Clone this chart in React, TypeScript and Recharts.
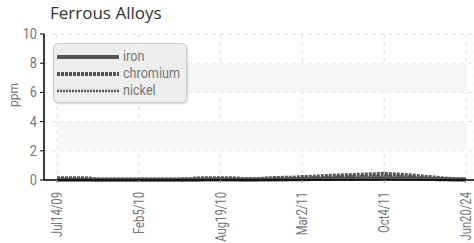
import React from "react";
import {
  LineChart,
  Line,
  XAxis,
  YAxis,
  CartesianGrid,
  ReferenceArea,
} from "recharts";

const tickLabels = ["Jul14/09", "Feb5/10", "Aug19/10", "Mar2/11", "Oct4/11", "Jun20/24"];
const tickIdx = [0, 10, 20, 30, 40, 50];

const iron = [
  0.02, 0.02, 0.02, 0.02, 0.02, 0.02, 0.02, 0.02, 0.02, 0.02,
  0.02, 0.02, 0.02, 0.02, 0.02, 0.02, 0.02, 0.02, 0.03, 0.03,
  0.03, 0.03, 0.03, 0.02, 0.02, 0.03, 0.03, 0.04, 0.04, 0.05,
  0.05, 0.06, 0.06, 0.07, 0.08, 0.08, 0.09, 0.1, 0.1, 0.11,
  0.12, 0.11, 0.1, 0.09, 0.08, 0.07, 0.06, 0.05, 0.04, 0.03, 0.03,
];
const chromium = [
  0.12, 0.12, 0.12, 0.12, 0.1, 0.04, 0.03, 0.03, 0.03, 0.03,
  0.03, 0.03, 0.03, 0.03, 0.03, 0.04, 0.05, 0.1, 0.12, 0.12,
  0.12, 0.12, 0.1, 0.06, 0.06, 0.08, 0.12, 0.14, 0.15, 0.16,
  0.2, 0.22, 0.24, 0.28, 0.3, 0.32, 0.34, 0.36, 0.38, 0.4,
  0.42, 0.4, 0.36, 0.32, 0.28, 0.22, 0.18, 0.12, 0.08, 0.05, 0.04,
];
const nickel = [
  0.06, 0.06, 0.06, 0.06, 0.05, 0.03, 0.02, 0.02, 0.02, 0.02,
  0.02, 0.02, 0.02, 0.02, 0.02, 0.03, 0.04, 0.06, 0.08, 0.08,
  0.08, 0.08, 0.06, 0.04, 0.04, 0.06, 0.08, 0.1, 0.11, 0.12,
  0.14, 0.16, 0.18, 0.2, 0.22, 0.24, 0.25, 0.26, 0.27, 0.28,
  0.3, 0.28, 0.26, 0.24, 0.2, 0.16, 0.12, 0.09, 0.06, 0.04, 0.03,
];

const data = iron.map((v, i) => ({ i, iron: v, chromium: chromium[i], nickel: nickel[i] }));

const FONT = "Roboto, sans-serif";
const LINE = "#555555";

const series = [
  { key: "iron", width: 4, dash: undefined as string | undefined },
  { key: "chromium", width: 4, dash: "3 1" },
  { key: "nickel", width: 2.5, dash: "2 1" },
];

// labels are a condensed face in the original, so squeeze along the text direction
function XTick({ x, y, payload }: any) {
  const label = tickLabels[tickIdx.indexOf(payload.value)];
  return (
    <g transform={`translate(${x + 5} ${y + 7}) rotate(-90) scale(0.75 1)`}>
      <text x={0} y={0} textAnchor="end" fill="#777" fontSize={15} fontFamily={FONT}>
        {label}
      </text>
    </g>
  );
}

function YTick({ x, y, payload }: any) {
  return (
    <g transform={`translate(${x - 1} ${y + 5}) scale(0.85 1)`}>
      <text x={0} y={0} textAnchor="end" fill="#777" fontSize={15} fontFamily={FONT}>
        {payload.value}
      </text>
    </g>
  );
}

function LegendBox() {
  return (
    <div
      style={{
        position: "absolute",
        left: 53,
        top: 43,
        width: 132,
        height: 58,
        background: "#eeeeee",
        border: "1px solid #cccccc",
        borderRadius: 5,
        boxShadow: "1px 1px 2px rgba(0,0,0,0.15)",
        fontFamily: FONT,
        fontSize: 14,
        color: "#777",
      }}
    >
      {series.map((s, k) => (
        <div key={s.key} style={{ display: "flex", alignItems: "center", height: 17, marginTop: k === 0 ? 4 : 0 }}>
          <svg width={66} height={10} style={{ marginLeft: 3 }}>
            <line x1={0} y1={5} x2={62} y2={5} stroke={LINE} strokeWidth={s.width} strokeDasharray={s.dash} />
          </svg>
          <span style={{ lineHeight: "17px", display: "inline-block", transform: "scaleX(0.9)", transformOrigin: "left center" }}>
            {s.key}
          </span>
        </div>
      ))}
    </div>
  );
}

export default function App() {
  return (
    <div style={{ position: "absolute", left: 0, top: 0, width: 474, height: 243, background: "#fff" }}>
      <div
        style={{
          position: "absolute",
          left: 50,
          top: 0,
          fontFamily: "'Open Sans', sans-serif",
          fontSize: 17,
          lineHeight: "26px",
          color: "#333",
        }}
      >
        Ferrous Alloys
      </div>
      <LineChart width={474} height={243} data={data} margin={{ top: 34, right: 0, bottom: 0, left: 0 }}>
        <ReferenceArea y1={2} y2={4} fill="#f7f7f7" fillOpacity={1} stroke="none" />
        <ReferenceArea y1={6} y2={8} fill="#f7f7f7" fillOpacity={1} stroke="none" />
        <CartesianGrid stroke="#dddddd" strokeDasharray="4 4" />
        <XAxis
          dataKey="i"
          type="number"
          domain={[0, 50]}
          ticks={tickIdx}
          height={63}
          padding={{ left: 13, right: 8 }}
          axisLine={{ stroke: "#000", strokeWidth: 1.5 }}
          tickLine={{ stroke: "#999" }}
          tickSize={3}
          tick={<XTick />}
          interval={0}
        />
        <YAxis
          domain={[0, 10]}
          ticks={[0, 2, 4, 6, 8, 10]}
          interval={0}
          width={44}
          axisLine={{ stroke: "#000", strokeWidth: 1.5 }}
          tickLine={{ stroke: "#000" }}
          tickSize={4}
          tick={<YTick />}
          label={{ value: "ppm", angle: -90, position: "insideLeft", offset: 14, fill: "#777", fontSize: 12, fontFamily: FONT }}
        />
        {series.map((s) => (
          <Line
            key={s.key}
            dataKey={s.key}
            type="monotone"
            stroke={LINE}
            strokeWidth={s.width}
            strokeDasharray={s.dash}
            dot={false}
            isAnimationActive={false}
          />
        ))}
      </LineChart>
      <LegendBox />
    </div>
  );
}
